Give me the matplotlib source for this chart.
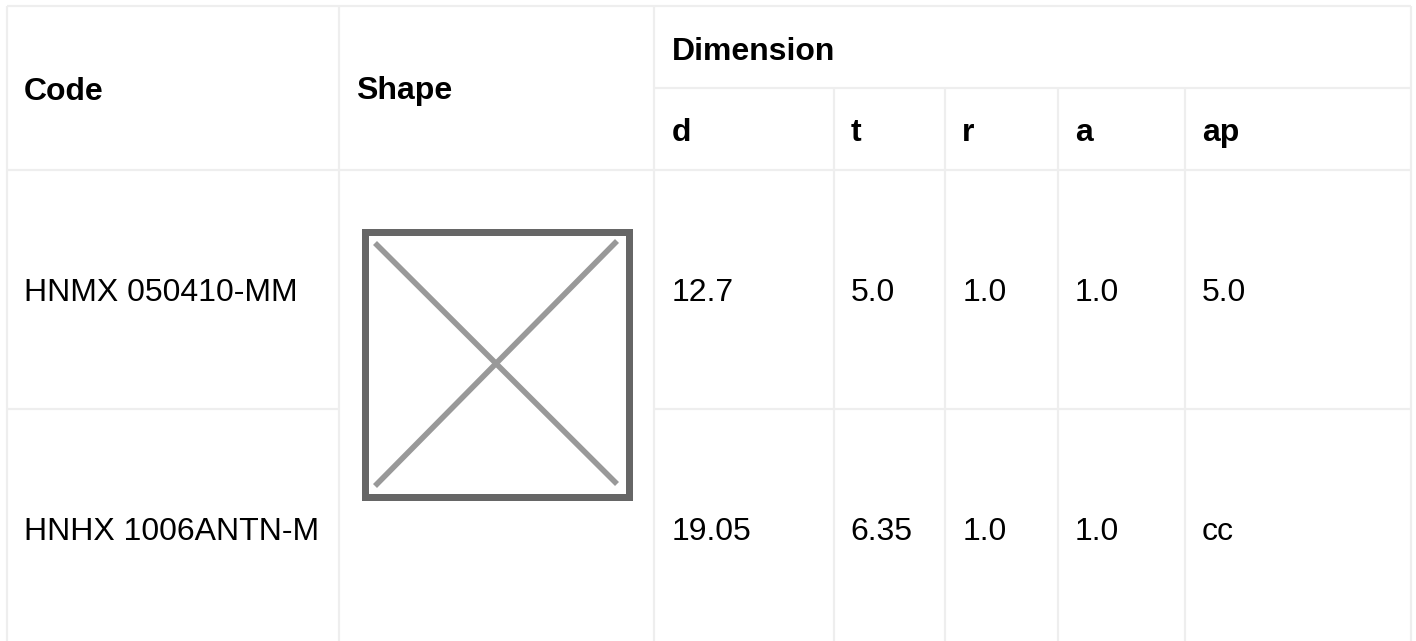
import matplotlib
matplotlib.use("Agg")
import matplotlib.pyplot as plt
from matplotlib.patches import Rectangle

# table content
top_headers = ["Code", "Shape", "Dimension"]
dim_headers = ["d", "t", "r", "a", "ap"]
codes = ["HNMX 050410-MM", "HNHX 1006ANTN-M"]
row_values = [
    ["12.7", "5.0", "1.0", "1.0", "5.0"],
    ["19.05", "6.35", "1.0", "1.0", "cc"],
]

# layout, in pixels of the picture
W, H = 1416, 641
col_x = [6.5, 338.5, 653.5, 834, 944.7, 1057.5, 1184.7, 1411]
row_y = [6, 88.3, 170, 408.7, 641]
text_x = [17.5, 17.5, 18, 16.5, 17.5, 17.5, 17]  # left padding per column
GRID = "#eeeeee"

plt.rcParams["font.family"] = ["Liberation Sans", "DejaVu Sans"]
fig = plt.figure(figsize=(W / 100, H / 100), dpi=100)
ax = fig.add_axes([0, 0, 1, 1])
ax.set_xlim(0, W)
ax.set_ylim(H, 0)
ax.axis("off")

lw = 2.2 * 72 / 100


def hline(y, x0, x1):
    ax.plot([x0, x1], [y, y], color=GRID, lw=lw, solid_capstyle="butt")


def vline(x, y0, y1):
    ax.plot([x, x], [y0, y1], color=GRID, lw=lw, solid_capstyle="butt")


# grid
hline(row_y[0], col_x[0], col_x[-1])
hline(row_y[1], col_x[2], col_x[-1])
hline(row_y[2], col_x[0], col_x[-1])
hline(row_y[3], col_x[0], col_x[1])
hline(row_y[3], col_x[2], col_x[-1])
for x in [col_x[0], col_x[1], col_x[2], col_x[-1]]:
    vline(x, row_y[0], H)
for x in col_x[3:-1]:
    vline(x, row_y[1], H)

# text
FS = 23


def cell_text(col, y, s, bold=False):
    ax.text(col_x[col] + text_x[col], y, s, fontsize=FS,
            fontweight="bold" if bold else "normal",
            color="#000000", va="baseline", ha="left")


cell_text(0, 99.5, top_headers[0], True)
cell_text(1, 99.5, top_headers[1], True)
cell_text(2, 59.5, top_headers[2], True)

for i, h in enumerate(dim_headers):
    cell_text(2 + i, 141, h, True)

baselines = [301, 540]
for code, vals, base in zip(codes, row_values, baselines):
    cell_text(0, base, code)
    for i, v in enumerate(vals):
        cell_text(2 + i, base, v)

# broken-image placeholder in the merged Shape cell
ax.add_patch(Rectangle((364.5, 231.5), 264, 265, fill=False, ec="#666666", lw=7 * 72 / 100))
ax.plot([375, 617], [243, 484], color="#999999", lw=5.6 * 72 / 100, solid_capstyle="butt")
ax.plot([617, 375], [241, 486], color="#999999", lw=5.6 * 72 / 100, solid_capstyle="butt")

fig.savefig("out.png", dpi=100, facecolor="white")
